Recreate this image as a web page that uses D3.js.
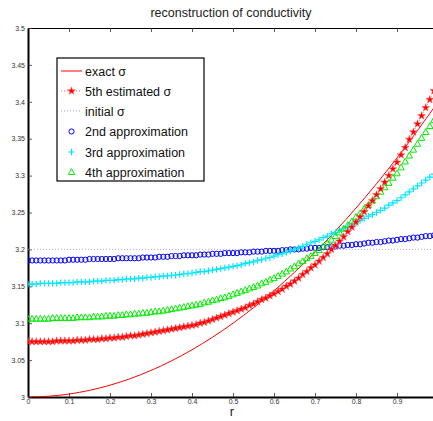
<!DOCTYPE html>
<html><head><meta charset="utf-8">
<script src="https://cdn.jsdelivr.net/npm/d3@7"></script>
<style>body{margin:0;background:#fff}svg{display:block;font-family:"Liberation Sans",Arial,sans-serif}</style>
</head><body><svg id="c" width="433" height="421"></svg>
<script>
const title = "reconstruction of conductivity";
const xLabel = "r";
const xTicks = [0,0.1,0.2,0.3,0.4,0.5,0.6,0.7,0.8,0.9];
const yTicks = [3,3.05,3.1,3.15,3.2,3.25,3.3,3.35,3.4,3.45,3.5];
const rStep = 0.01, nPts = 100;
const exactR = [0,0.05,0.1,0.15,0.2,0.25,0.3,0.35,0.4,0.45,0.5,0.55,0.6,0.65,0.7,0.75,0.8,0.85,0.9,0.95,0.99];
const exactSigma = [3.000,3.001,3.004,3.009,3.016,3.025,3.036,3.049,3.064,3.081,3.100,3.121,3.144,3.169,3.196,3.225,3.256,3.289,3.324,3.361,3.392];
const initialSigma = 3.2;
const approx2 = [3.185,3.185,3.185,3.185,3.185,3.185,3.185,3.185,3.185,3.185,
3.186,3.186,3.186,3.186,3.186,3.187,3.187,3.187,3.187,3.187,
3.187,3.187,3.188,3.188,3.188,3.188,3.188,3.188,3.189,3.189,
3.189,3.189,3.190,3.190,3.190,3.191,3.191,3.191,3.192,3.192,
3.192,3.192,3.193,3.193,3.193,3.194,3.194,3.194,3.195,3.195,
3.195,3.195,3.196,3.196,3.196,3.197,3.197,3.197,3.198,3.198,
3.198,3.198,3.199,3.199,3.200,3.200,3.200,3.201,3.201,3.202,
3.202,3.202,3.203,3.203,3.204,3.204,3.205,3.205,3.206,3.206,
3.207,3.207,3.208,3.209,3.209,3.210,3.210,3.211,3.212,3.212,
3.213,3.214,3.214,3.215,3.216,3.216,3.217,3.218,3.218,3.219];
const approx3 = [3.153,3.153,3.153,3.154,3.154,3.154,3.154,3.154,3.155,3.155,
3.155,3.155,3.156,3.156,3.156,3.156,3.157,3.157,3.157,3.158,
3.158,3.158,3.159,3.159,3.160,3.160,3.160,3.161,3.161,3.162,
3.162,3.163,3.163,3.164,3.164,3.165,3.165,3.166,3.167,3.167,
3.168,3.169,3.170,3.170,3.171,3.172,3.173,3.174,3.175,3.176,
3.177,3.178,3.179,3.181,3.182,3.183,3.185,3.186,3.188,3.189,
3.191,3.193,3.194,3.196,3.198,3.200,3.202,3.204,3.207,3.209,
3.211,3.213,3.216,3.218,3.221,3.223,3.226,3.228,3.231,3.233,
3.236,3.239,3.242,3.245,3.247,3.250,3.253,3.256,3.260,3.263,
3.266,3.270,3.274,3.278,3.282,3.286,3.290,3.294,3.298,3.302];
const approx4 = [3.106,3.106,3.106,3.106,3.106,3.106,3.107,3.107,3.107,3.107,
3.107,3.107,3.108,3.108,3.108,3.108,3.109,3.109,3.109,3.110,
3.110,3.110,3.111,3.111,3.112,3.112,3.113,3.113,3.114,3.114,
3.115,3.116,3.116,3.117,3.118,3.119,3.120,3.121,3.122,3.123,
3.124,3.125,3.126,3.128,3.129,3.131,3.132,3.134,3.135,3.137,
3.139,3.141,3.143,3.145,3.147,3.149,3.151,3.154,3.156,3.159,
3.161,3.164,3.167,3.170,3.174,3.177,3.181,3.184,3.188,3.191,
3.195,3.199,3.204,3.208,3.213,3.218,3.223,3.228,3.233,3.238,
3.244,3.249,3.255,3.260,3.266,3.272,3.278,3.284,3.290,3.297,
3.303,3.311,3.319,3.327,3.335,3.343,3.351,3.359,3.367,3.375];
const estimate5 = [3.075,3.075,3.075,3.075,3.075,3.075,3.075,3.076,3.076,3.076,
3.076,3.076,3.077,3.077,3.077,3.078,3.078,3.078,3.079,3.079,
3.080,3.080,3.081,3.081,3.082,3.083,3.083,3.084,3.085,3.086,
3.087,3.088,3.089,3.090,3.091,3.092,3.093,3.094,3.095,3.096,
3.097,3.098,3.100,3.101,3.103,3.105,3.107,3.109,3.111,3.113,
3.115,3.117,3.119,3.121,3.124,3.126,3.129,3.132,3.134,3.137,
3.140,3.143,3.146,3.150,3.153,3.157,3.161,3.166,3.170,3.175,
3.179,3.184,3.189,3.194,3.200,3.205,3.211,3.217,3.224,3.230,
3.237,3.244,3.251,3.259,3.266,3.274,3.282,3.291,3.300,3.309,
3.318,3.328,3.338,3.349,3.359,3.370,3.381,3.392,3.403,3.415];
const legendLabels = ["exact \u03c3","5th estimated \u03c3","initial \u03c3","2nd approximation","3rd approximation","4th approximation"];

const rVals = d3.range(nPts).map(i => +(i*rStep).toFixed(2));
const svg = d3.select("#c");
const x = d3.scaleLinear().domain([0,1]).range([28,438]);
const y = d3.scaleLinear().domain([3,3.5]).range([397,28]);

svg.append("defs").append("clipPath").attr("id","clip").append("rect")
  .attr("x",28).attr("y",28).attr("width",410).attr("height",369);

svg.append("text").attr("x",231).attr("y",17).attr("text-anchor","middle")
  .attr("font-size",12.5).attr("fill","#222").text(title);
svg.append("text").attr("x",232).attr("y",416).attr("text-anchor","middle")
  .attr("font-size",13).attr("fill","#222").text(xLabel);

const xb = svg.append("g").attr("transform","translate(0,397)")
  .call(d3.axisBottom(x).tickValues(xTicks).tickSizeInner(-4).tickSizeOuter(0).tickPadding(3).tickFormat(d=>d));
const xt = svg.append("g").attr("transform","translate(0,28)")
  .call(d3.axisTop(x).tickValues(xTicks).tickSizeInner(-4).tickSizeOuter(0).tickFormat(""));
const yl = svg.append("g").attr("transform","translate(28,0)")
  .call(d3.axisLeft(y).tickValues(yTicks).tickSizeInner(-4).tickSizeOuter(0).tickPadding(3).tickFormat(d=>d));
[xb,xt,yl].forEach(g=>{
  g.selectAll("text").attr("font-size",7).attr("fill","#333").attr("font-family","Liberation Sans, Arial, sans-serif");
  g.selectAll(".tick line").attr("stroke","#333").attr("stroke-width",0.8);
});
xb.selectAll("text").attr("dy","0.6em");
xb.select(".domain").attr("stroke","#000").attr("stroke-width",2);
xt.select(".domain").attr("stroke","#000").attr("stroke-width",1);
yl.select(".domain").attr("stroke","#000").attr("stroke-width",2);
xb.selectAll(".tick").filter(d=>d===0).select("line").remove();

const plot = svg.append("g").attr("clip-path","url(#clip)");

plot.append("line").attr("x1",x(0)).attr("x2",x(1)).attr("y1",y(initialSigma)).attr("y2",y(initialSigma))
  .attr("stroke","#9999ee").attr("stroke-width",1).attr("stroke-dasharray","1,2").attr("opacity",0.8);

const line = d3.line().x(d=>x(d[0])).y(d=>y(d[1]));

plot.append("path").datum(exactR.map((r,i)=>[r,exactSigma[i]]))
  .attr("d", line.curve(d3.curveNatural)).attr("fill","none").attr("stroke","#ff0000").attr("stroke-width",1);

function pts(arr){ return rVals.map((r,i)=>[r,arr[i]]); }

plot.append("g").selectAll("circle").data(pts(approx2)).join("circle")
  .attr("cx",d=>x(d[0])).attr("cy",d=>y(d[1])).attr("r",2.6)
  .attr("fill","none").attr("stroke","#0000ff").attr("stroke-width",1);

const plusPath = "M-3.2,0H3.2M0,-3.2V3.2";
plot.append("g").selectAll("path").data(pts(approx3)).join("path")
  .attr("transform",d=>`translate(${x(d[0])},${y(d[1])})`).attr("d",plusPath)
  .attr("stroke","#00e5ff").attr("stroke-width",1.2).attr("fill","none");

const triPath = "M0,-3.4L3.2,2.4L-3.2,2.4Z";
plot.append("g").selectAll("path").data(pts(approx4)).join("path")
  .attr("transform",d=>`translate(${x(d[0])},${y(d[1])})`).attr("d",triPath)
  .attr("stroke","#00ee00").attr("stroke-width",1).attr("fill","none");

plot.append("path").datum(pts(estimate5)).attr("d", d3.line().x(d=>x(d[0])).y(d=>y(d[1])))
  .attr("fill","none").attr("stroke","#ff6666").attr("stroke-width",1).attr("stroke-dasharray","1,2");
const star = d3.symbol().type(d3.symbolStar).size(19)();
plot.append("g").selectAll("path").data(pts(estimate5)).join("path")
  .attr("transform",d=>`translate(${x(d[0])},${y(d[1])})`).attr("d",star)
  .attr("fill","#ff0000").attr("stroke","#ff5555").attr("stroke-width",0.5);

const lg = svg.append("g");
lg.append("rect").attr("x",57).attr("y",58).attr("width",147).attr("height",123)
  .attr("fill","#fff").attr("stroke","#000").attr("stroke-width",1.2);
const rowY = [71,91,111,131.5,152,172];
lg.selectAll("text").data(legendLabels).join("text")
  .attr("x",85).attr("y",(d,i)=>rowY[i]+4.5).attr("font-size",12.5).attr("fill","#111").text(d=>d);
lg.append("line").attr("x1",61).attr("x2",82).attr("y1",rowY[0]).attr("y2",rowY[0]).attr("stroke","#ff0000").attr("stroke-width",1);
lg.append("line").attr("x1",61).attr("x2",82).attr("y1",rowY[1]).attr("y2",rowY[1]).attr("stroke","#ff6666").attr("stroke-dasharray","1,2");
lg.append("path").attr("transform",`translate(71.5,${rowY[1]})`).attr("d",star).attr("fill","#ff0000").attr("stroke","#ff5555").attr("stroke-width",0.5);
lg.append("line").attr("x1",61).attr("x2",82).attr("y1",rowY[2]).attr("y2",rowY[2]).attr("stroke","#9999ee").attr("stroke-dasharray","1,2");
lg.append("circle").attr("cx",71.5).attr("cy",rowY[3]).attr("r",2.6).attr("fill","none").attr("stroke","#0000ff");
lg.append("path").attr("transform",`translate(71.5,${rowY[4]})`).attr("d",plusPath).attr("stroke","#00e5ff").attr("stroke-width",1.2);
lg.append("path").attr("transform",`translate(71.5,${rowY[5]})`).attr("d",triPath).attr("stroke","#00ee00").attr("fill","none");
</script></body></html>
